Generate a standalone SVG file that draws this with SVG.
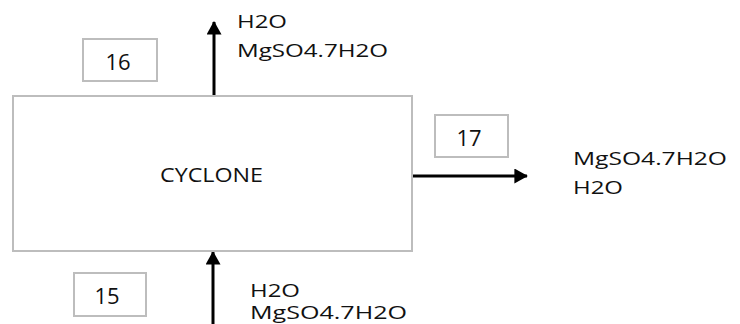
<svg xmlns="http://www.w3.org/2000/svg" width="740" height="324" viewBox="0 0 740 324">
  <defs>
    <marker id="arrow" markerWidth="4.5" markerHeight="5" refX="4.2" refY="2.5" orient="auto" markerUnits="strokeWidth">
      <path d="M0,0 L4.5,2.5 L0,5 Z" fill="#000"/>
    </marker>
  </defs>
  <style>
    .box { fill: #fff; stroke: #bdbdbd; stroke-width: 2; }
    .flow { stroke: #000; stroke-width: 3; fill: none; marker-end: url(#arrow); }
    text { font-family: "Open Sans", "Liberation Sans", sans-serif; font-size: 19px; fill: #111; }
    .num { font-size: 22px; text-anchor: middle; }
    .title { font-size: 20px; }
  </style>
  <rect width="740" height="324" fill="#fff"/>

  <g id="connectors">
    <line class="flow" x1="214" y1="96" x2="214" y2="22"/>
    <line class="flow" x1="412" y1="176" x2="527" y2="176"/>
    <line class="flow" x1="213" y1="324" x2="213" y2="252"/>
  </g>

  <g id="cyclone">
    <rect class="box" x="13" y="96" width="399" height="155"/>
    <text class="title" x="160" y="182" textLength="103" lengthAdjust="spacingAndGlyphs">CYCLONE</text>
  </g>

  <g id="stream-16">
    <rect class="box" x="83" y="39" width="74" height="42"/>
    <text class="num" x="118" y="70">16</text>
    <text x="237" y="28" textLength="50" lengthAdjust="spacingAndGlyphs">H2O</text>
    <text x="237" y="57" textLength="151" lengthAdjust="spacingAndGlyphs">MgSO4.7H2O</text>
  </g>

  <g id="stream-17">
    <rect class="box" x="435" y="115" width="73" height="42"/>
    <text class="num" x="469" y="146">17</text>
    <text x="573" y="165" textLength="154" lengthAdjust="spacingAndGlyphs">MgSO4.7H2O</text>
    <text x="573" y="194" textLength="50" lengthAdjust="spacingAndGlyphs">H2O</text>
  </g>

  <g id="stream-15">
    <rect class="box" x="74" y="273" width="72" height="43"/>
    <text class="num" x="107" y="304">15</text>
    <text x="250" y="297" textLength="50" lengthAdjust="spacingAndGlyphs">H2O</text>
    <text x="250" y="319" font-size="18" textLength="157" lengthAdjust="spacingAndGlyphs">MgSO4.7H2O</text>
  </g>
</svg>
